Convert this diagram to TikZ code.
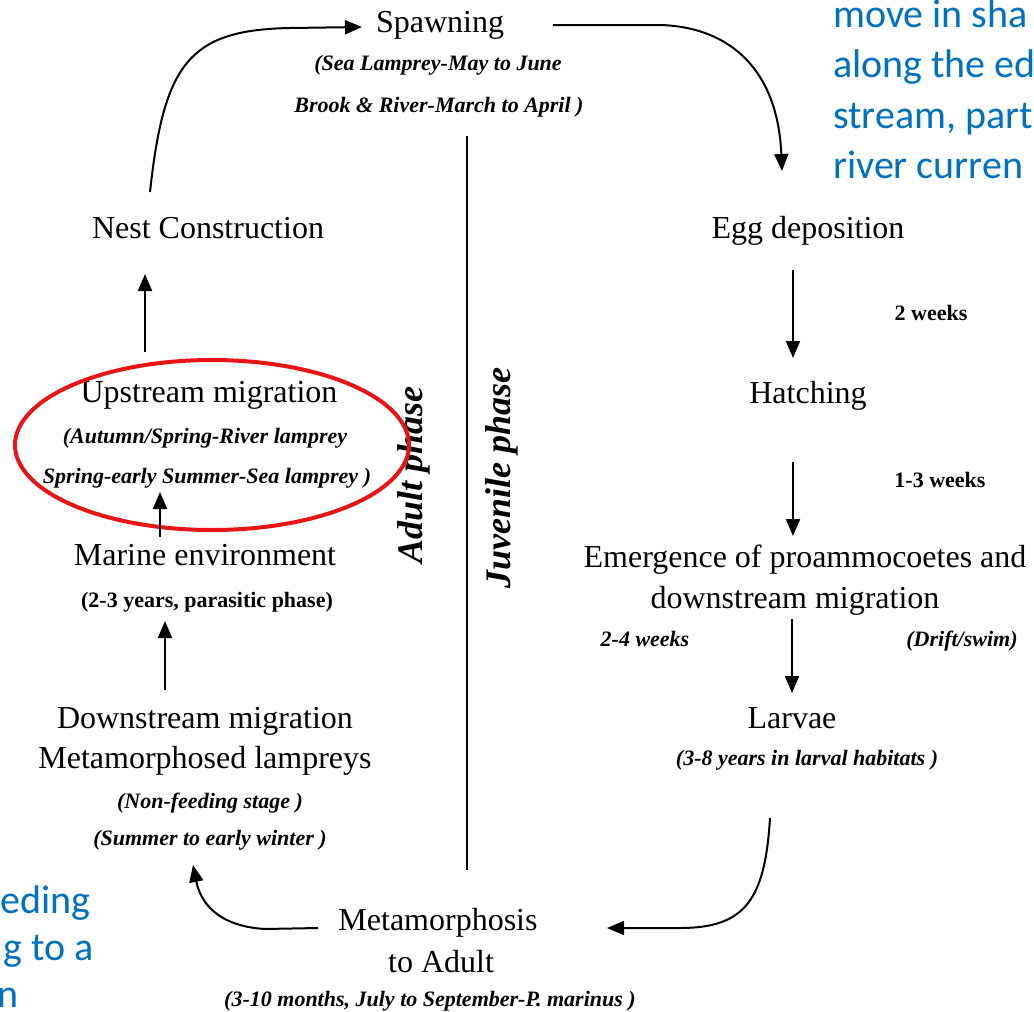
\documentclass[tikz,border=0pt]{standalone}
\usepackage{fontspec}
\setmainfont{Liberation Serif}
\newfontfamily\blufont{Carlito}
\usetikzlibrary{arrows.meta}
\definecolor{bluetxt}{RGB}{0,112,192}
\definecolor{ellred}{RGB}{232,20,22}
\begin{document}
\begin{tikzpicture}[x=1pt,y=-1pt,
  big/.style={font=\fontsize{32}{38}\selectfont, inner sep=0pt, anchor=base},
  smallit/.style={font=\fontsize{22}{26}\selectfont\bfseries\itshape, inner sep=0pt, anchor=base},
  smallup/.style={font=\fontsize{22}{26}\selectfont\bfseries, inner sep=0pt, anchor=base},
  phase/.style={font=\fontsize{36}{40}\selectfont\bfseries\itshape, rotate=90, inner sep=0pt},
  bluetext/.style={font=\blufont\fontsize{40}{48}\selectfont, text=bluetxt, inner sep=0pt},
  arr/.style={line width=2pt, -{Triangle[length=17pt,width=14pt]}}
]
\useasboundingbox[fill=white] (0,0) rectangle (1034,1012);

% blue overlay text (cut by the picture border, as in the reference)
\node[bluetext, anchor=base west] (b1) at (833,27) {move in sha};
\node[bluetext, anchor=base west] (b2) at (833,77) {along the ed};
\node[bluetext, anchor=base west] (b3) at (833,128) {stream, part};
\node[bluetext, anchor=base west] (b4) at (833,178) {river curren};
\node[bluetext, anchor=base east] (b5) at (91,913) {eding};
\node[bluetext, anchor=base east] (b6) at (94,960) {g to a};
\node[bluetext, anchor=base east] (b7) at (19,1007) {n};

% top
\node[big] (spawn) at (440,32) {Spawning};
\node[smallit] (spawn1) at (438,70) {(Sea Lamprey-May to June};
\node[smallit] (spawn2) at (439,112) {Brook \& River-March to April )};

% left column
\node[big] (nest) at (208,238) {Nest Construction};
\node[big] (up) at (209,402) {Upstream migration};
\node[smallit] (up1) at (205,443) {(Autumn/Spring-River lamprey};
\node[smallit] (up2) at (207,483) {Spring-early Summer-Sea lamprey )};
\node[big] (marine) at (205,565) {Marine environment};
\node[smallup] (marine1) at (207,607) {(2-3 years, parasitic phase)};
\node[big] (down) at (205,728) {Downstream migration};
\node[big] (down1) at (205,768) {Metamorphosed lampreys};
\node[smallit] (down2) at (210,808) {(Non-feeding stage )};
\node[smallit] (down3) at (210,845) {(Summer to early winter )};

% right column
\node[big] (egg) at (808,238) {Egg deposition};
\node[smallup] (w2) at (931,320) {2 weeks};
\node[big] (hatch) at (808,403) {Hatching};
\node[smallup] (w13) at (940,487) {1-3 weeks};
\node[big] (emerg) at (805,567) {Emergence of proammocoetes and};
\node[big] (emerg1) at (795,608) {downstream migration};
\node[smallit] (w24) at (645,646) {2-4 weeks};
\node[smallit] (drift) at (962,646) {(Drift/swim)};
\node[big] (larvae) at (792,728) {Larvae};
\node[smallit] (larvae1) at (807,765) {(3-8 years in larval habitats )};

% bottom
\node[big] (meta) at (438,930) {Metamorphosis};
\node[big] (meta1) at (441,972) {to Adult};
\node[smallit] (meta2) at (430,1006) {(3-10 months, July to September-P. marinus )};

% phases
\node[phase] (adult) at (414,475) {Adult phase};
\node[phase] (juv) at (502,478) {Juvenile phase};
\draw[line width=2.5pt] (467,136) -- (467,870);

% red ellipse
\draw[ellred, line width=4pt] (212,445) ellipse [x radius=197pt, y radius=85pt];

% connector end points
\coordinate (c1s) at (150,192);
\coordinate (c1e) at (362,27);
\coordinate (c2s) at (553,25);
\coordinate (c2e) at (782,171);
\coordinate (c3s) at (793,270);
\coordinate (c3e) at (793,358);
\coordinate (c4s) at (793,462);
\coordinate (c4e) at (793,536);
\coordinate (c5s) at (792,619);
\coordinate (c5e) at (792,693);
\coordinate (c6s) at (770,818);
\coordinate (c6e) at (607,928);
\coordinate (c7s) at (318,928);
\coordinate (c7e) at (193,865);
\coordinate (c8s) at (165,690);
\coordinate (c8e) at (165,621);
\coordinate (c9s) at (160,537);
\coordinate (c9e) at (160,492);
\coordinate (c10s) at (145,352);
\coordinate (c10e) at (145,274);

\draw[arr] (c1s) .. controls (164,62) and (190,30) .. (290,28) -- (c1e);
\draw[arr] (c2s) -- (660,25) .. controls (732,27) and (778,72) .. (c2e);
\draw[arr] (c3s) -- (c3e);
\draw[arr] (c4s) -- (c4e);
\draw[arr] (c5s) -- (c5e);
\draw[arr] (c6s) .. controls (765,900) and (745,928) .. (680,928) -- (c6e);
\draw[arr] (c7s) -- (265,929) .. controls (215,926) and (200,900) .. (c7e);
\draw[arr] (c8s) -- (c8e);
\draw[arr] (c9s) -- (c9e);
\draw[arr] (c10s) -- (c10e);
\end{tikzpicture}
\end{document}
